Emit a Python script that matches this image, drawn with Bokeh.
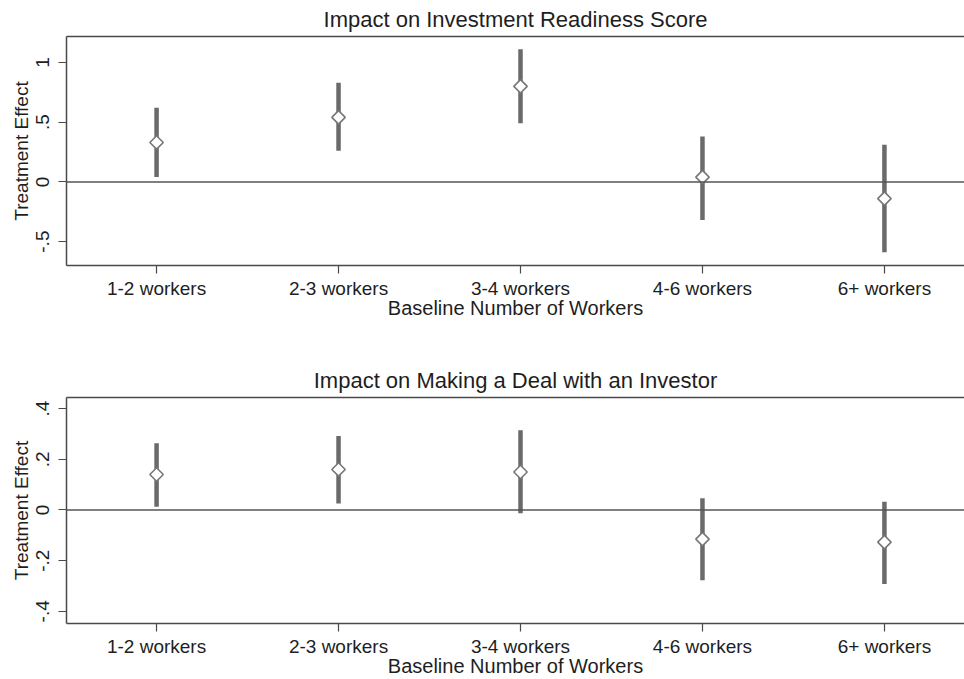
import math
from bokeh.plotting import figure
from bokeh.models import FixedTicker, LinearAxis, Range1d, Span, Title
from bokeh.layouts import column
from bokeh.embed import file_html
from bokeh.resources import INLINE

categories = ["1-2 workers", "2-3 workers", "3-4 workers", "4-6 workers", "6+ workers"]

readiness_est = [0.33, 0.54, 0.80, 0.04, -0.14]
readiness_lo = [0.04, 0.26, 0.49, -0.32, -0.59]
readiness_hi = [0.62, 0.83, 1.11, 0.38, 0.31]

deal_est = [0.14, 0.16, 0.15, -0.115, -0.127]
deal_lo = [0.013, 0.026, -0.013, -0.277, -0.292]
deal_hi = [0.263, 0.292, 0.315, 0.046, 0.033]

readiness_ticks = [-0.5, 0, 0.5, 1]
readiness_tick_labels = ["-.5", "0", ".5", "1"]
deal_ticks = [-0.4, -0.2, 0, 0.2, 0.4]
deal_tick_labels = ["-.4", "-.2", "0", ".2", ".4"]

FONT = "Liberation Sans"
TXT = "#1e1e1e"
AX = "#4a4a4a"
BAR = "#6a6a6a"


def make_panel(title, est, lo, hi, ticks, tick_labels, yr, height, b_top, b_bottom):
    xs = [i + 1 for i in range(len(categories))]
    p = figure(width=964, height=height, output_backend="svg", toolbar_location=None,
               x_range=Range1d(0.505, 5.44), y_range=Range1d(*yr),
               min_border_left=66, min_border_right=0,
               min_border_top=b_top, min_border_bottom=b_bottom,
               background_fill_color="white", border_fill_color="white")
    p.outline_line_color = None
    p.grid.visible = False

    xa = p.below[0]
    ya = p.left[0]

    top = LinearAxis(ticker=FixedTicker(ticks=[]), major_label_text_font_size="0px",
                     major_tick_line_color=None, minor_tick_line_color=None,
                     axis_line_color=AX, axis_line_width=1.5)
    p.add_layout(top, "above")

    t = Title(text=title, align="center", text_font=FONT, text_font_size="22px",
              text_font_style="normal", text_color=TXT, standoff=9)
    p.add_layout(t, "above")

    xa.ticker = FixedTicker(ticks=xs)
    xa.major_label_overrides = {x: c for x, c in zip(xs, categories)}
    xa.axis_label = "Baseline Number of Workers"
    xa.axis_label_text_font = FONT
    xa.axis_label_text_font_size = "20px"
    xa.axis_label_text_font_style = "normal"
    xa.axis_label_text_color = TXT
    xa.axis_label_standoff = -5
    xa.major_label_text_font = FONT
    xa.major_label_text_font_size = "19px"
    xa.major_label_text_color = TXT
    xa.major_label_standoff = 4
    xa.major_tick_out = 8
    xa.major_tick_in = 0
    xa.minor_tick_line_color = None
    xa.axis_line_color = AX
    xa.axis_line_width = 1.5
    xa.major_tick_line_color = AX
    xa.major_tick_line_width = 1.2

    ya.ticker = FixedTicker(ticks=ticks)
    ya.major_label_overrides = {t_: l for t_, l in zip(ticks, tick_labels)}
    ya.major_label_orientation = "vertical"
    ya.axis_label = "Treatment Effect"
    ya.axis_label_text_font = FONT
    ya.axis_label_text_font_size = "19px"
    ya.axis_label_text_font_style = "normal"
    ya.axis_label_text_color = TXT
    ya.axis_label_standoff = 2
    ya.major_label_text_font = FONT
    ya.major_label_text_font_size = "19px"
    ya.major_label_text_color = TXT
    ya.major_label_standoff = 9
    ya.major_tick_out = 8
    ya.major_tick_in = 0
    ya.minor_tick_line_color = None
    ya.axis_line_color = AX
    ya.axis_line_width = 1.5
    ya.major_tick_line_color = AX
    ya.major_tick_line_width = 1.2

    p.add_layout(Span(location=0, dimension="width", line_color="#555555", line_width=1.5))

    p.segment(x0=xs, y0=lo, x1=xs, y1=hi, line_color=BAR, line_width=4.5)
    p.scatter(x=xs, y=est, marker="square", size=9.5, angle=math.pi / 4,
              fill_color="white", line_color="#777777", line_width=1.6)
    return p


p1 = make_panel("Impact on Investment Readiness Score", readiness_est, readiness_lo, readiness_hi,
                readiness_ticks, readiness_tick_labels, (-0.70, 1.217), 340, 35, 75)
p2 = make_panel("Impact on Making a Deal with an Investor", deal_est, deal_lo, deal_hi,
                deal_ticks, deal_tick_labels, (-0.448, 0.444), 339, 57, 54)

layout = column(p1, p2, spacing=0)
open("out.html", "w").write(file_html(layout, INLINE))
